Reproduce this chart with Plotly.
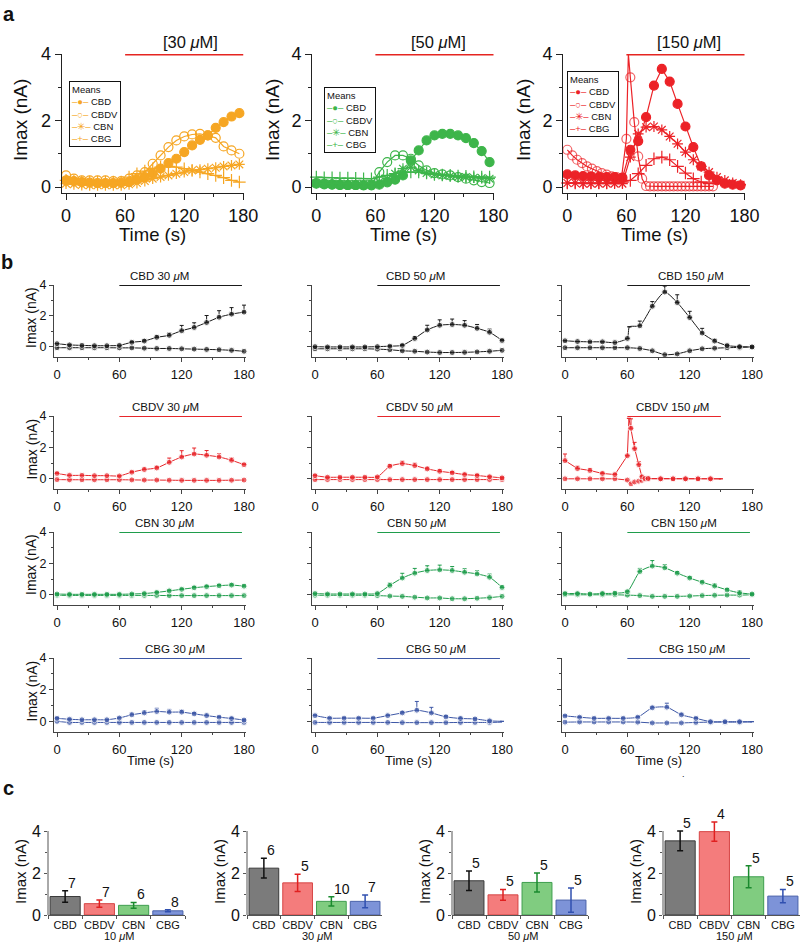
import plotly.graph_objects as go

W, H = 800, 943
FONT = "Liberation Sans, Arial, Helvetica, sans-serif"

# ---------------- panel a : mean Imax traces ----------------
T_A = [0, 8, 16, 24, 32, 40, 48, 56, 64, 72, 80, 88, 96, 104, 112, 120, 128, 136, 144, 152, 160, 168, 176]

A30_CBD = [0.2, 0.18, 0.15, 0.13, 0.12, 0.12, 0.12, 0.13, 0.15, 0.22, 0.3, 0.4, 0.55, 0.72, 0.85, 1.05,
           1.25, 1.42, 1.55, 1.78, 1.95, 2.12, 2.22]
A30_CBDV = [0.35, 0.25, 0.2, 0.2, 0.2, 0.2, 0.18, 0.18, 0.25, 0.35, 0.45, 0.7, 0.95, 1.2, 1.4, 1.52,
            1.58, 1.6, 1.55, 1.48, 1.22, 1.1, 1.0]
A30_CBN = [0.1, 0.08, 0.06, 0.05, 0.05, 0.05, 0.05, 0.05, 0.08, 0.12, 0.18, 0.25, 0.3, 0.35, 0.4, 0.45,
           0.5, 0.52, 0.55, 0.58, 0.62, 0.65, 0.68]
A30_CBG = [0.2, 0.18, 0.15, 0.15, 0.15, 0.15, 0.15, 0.15, 0.3, 0.4, 0.48, 0.55, 0.6, 0.62, 0.6, 0.55,
           0.5, 0.45, 0.4, 0.35, 0.28, 0.2, 0.15]

A50_CBD = [0.1, 0.08, 0.07, 0.06, 0.06, 0.06, 0.05, 0.05, 0.07, 0.14, 0.22, 0.35, 0.8, 1.1, 1.4, 1.55,
           1.6, 1.6, 1.55, 1.47, 1.32, 1.08, 0.75]
A50_CBDV = [0.12, 0.1, 0.08, 0.07, 0.06, 0.06, 0.06, 0.07, 0.45, 0.75, 0.95, 0.95, 0.85, 0.65, 0.5, 0.42,
            0.38, 0.35, 0.3, 0.25, 0.2, 0.15, 0.12]
A50_CBN = [0.12, 0.1, 0.1, 0.1, 0.1, 0.1, 0.1, 0.1, 0.15, 0.25, 0.4, 0.55, 0.6, 0.5, 0.42, 0.38,
           0.35, 0.33, 0.3, 0.3, 0.28, 0.27, 0.25]
A50_CBG = [0.3, 0.28, 0.28, 0.27, 0.27, 0.26, 0.25, 0.25, 0.3, 0.35, 0.4, 0.45, 0.45, 0.45, 0.42, 0.38,
           0.36, 0.35, 0.33, 0.32, 0.31, 0.3, 0.3]

A150_CBD = [0.38, 0.35, 0.33, 0.32, 0.3, 0.3, 0.3, 0.28, 1.12, 1.38, 2.1, 3.05, 3.55, 3.17, 2.5, 1.82,
            1.2, 0.62, 0.35, 0.2, 0.1, 0.07, 0.05]
A150_CBN = [0.12, 0.12, 0.1, 0.1, 0.1, 0.1, 0.1, 0.1, 0.9, 1.6, 1.8, 1.82, 1.72, 1.52, 1.3, 1.05,
            0.82, 0.62, 0.45, 0.3, 0.2, 0.12, 0.07]
A150_CBG = [0.12, 0.12, 0.12, 0.12, 0.12, 0.12, 0.15, 0.15, 0.2, 0.4, 0.65, 0.85, 0.9, 0.82, 0.62, 0.42,
            0.25, 0.15, 0.1]
T_A150_CBDV = [0, 5, 10, 15, 20, 25, 30, 35, 40, 45, 50, 55, 60, 62, 64, 68, 72, 76, 80, 84, 88, 92, 96,
               100, 104, 108, 112, 116, 120, 124, 128, 132, 136, 140, 144, 148]
A150_CBDV = [1.12, 0.95, 0.82, 0.72, 0.62, 0.55, 0.48, 0.42, 0.37, 0.32, 0.3, 0.27, 1.45, 4.0, 3.3, 1.95,
             0.92, 0.25, 0.03, 0.02, 0.02, 0.02, 0.02, 0.02, 0.02, 0.02, 0.02, 0.02, 0.02, 0.02, 0.02,
             0.02, 0.02, 0.02, 0.02, 0.02]

A_CONC = ["30", "50", "150"]
A_COLORS = ["#F6A623", "#3DB54A", "#EC2227"]
DRUGS = ["CBD", "CBDV", "CBN", "CBG"]
A_SYMBOLS = ["circle", "circle-open", "asterisk-open", "cross-thin-open"]
A_GLYPHS = ["●", "○", "✳", "+"]

# ---------------- panel b : individual drugs, treated vs control ----------------
T_B = [0, 12, 24, 36, 48, 60, 72, 84, 96, 108, 120, 132, 144, 156, 168, 180]
T_B14 = [0, 14, 28, 42, 56, 70, 84, 98, 112, 126, 140, 154, 168, 180]
T_B_CBD150 = [0, 12, 24, 36, 48, 60, 62, 72, 84, 96, 108, 120, 132, 144, 156, 168, 180]
T_B_CBDV150 = [0, 12, 24, 36, 48, 60, 61.5, 63.5, 67, 71, 74, 77, 80, 92, 104, 116, 128, 140, 150]
T_B_CBDV150_C = [0, 12, 24, 36, 48, 60, 63.5, 67, 71, 74, 77, 80, 92, 104, 116, 128, 140, 150]

CBD30 = [0.21, 0.13, 0.1, 0.08, 0.08, 0.1, 0.3, 0.38, 0.62, 0.75, 1.05, 1.26, 1.58, 1.92, 2.12, 2.25]
CBD30_E = [0, 0, 0, 0, 0, 0, 0.05, 0.08, 0.1, 0.15, 0.34, 0.3, 0.45, 0.42, 0.42, 0.45]
CBD30_C = [-0.05, -0.05, -0.05, -0.05, -0.05, -0.06, -0.06, -0.08, -0.1, -0.1, -0.12, -0.14, -0.16, -0.18,
           -0.22, -0.28]
CBD50 = [0.02, 0.0, 0.0, 0.0, 0.0, 0.02, 0.05, 0.1, 0.55, 1.1, 1.4, 1.45, 1.4, 1.2, 0.95, 0.42]
CBD50_E = [0, 0, 0, 0, 0, 0, 0.03, 0.05, 0.12, 0.3, 0.35, 0.35, 0.3, 0.25, 0.2, 0.05]
CBD50_C = [-0.12, -0.12, -0.12, -0.12, -0.12, -0.14, -0.18, -0.25, -0.28, -0.33, -0.36, -0.36, -0.35,
           -0.32, -0.28, -0.22]
CBD150 = [0.4, 0.35, 0.33, 0.33, 0.28, 0.55, 1.3, 1.37, 2.63, 3.55, 2.87, 1.9, 0.9, 0.38, 0.09, 0.02, 0.0]
CBD150_E = [0, 0, 0, 0, 0, 0, 0, 0.3, 0.3, 0.38, 0.5, 0.4, 0.3, 0.12, 0.05, 0.03, 0]
CBD150_C = [-0.05, -0.05, -0.05, -0.05, -0.05, -0.05, -0.1, -0.25, -0.5, -0.45, -0.25, -0.12, -0.08,
            -0.05, -0.03, 0.0]

CBDV30 = [0.34, 0.22, 0.22, 0.2, 0.2, 0.18, 0.42, 0.59, 0.69, 1.05, 1.39, 1.58, 1.5, 1.39, 1.18, 0.9]
CBDV30_E = [0.05, 0, 0, 0, 0, 0, 0.05, 0.1, 0.12, 0.27, 0.4, 0.38, 0.3, 0.2, 0.15, 0.05]
CBDV30_C = [-0.05, -0.06, -0.06, -0.06, -0.06, -0.06, -0.07, -0.08, -0.08, -0.09, -0.1, -0.1, -0.1, -0.1,
            -0.09, -0.08]
CBDV50 = [0.2, 0.1, 0.1, 0.1, 0.1, 0.12, 0.8, 0.97, 0.84, 0.63, 0.48, 0.38, 0.27, 0.21, 0.13, 0.06]
CBDV50_E = [0.05, 0, 0, 0, 0, 0.03, 0.1, 0.15, 0.15, 0.12, 0.1, 0.08, 0.08, 0.06, 0.05, 0.05]
CBDV50_C = [-0.05, -0.05, -0.05, -0.05, -0.05, -0.05, -0.05, -0.05, -0.05, -0.05, -0.05, -0.05, -0.05,
            -0.05, -0.05, -0.05]
CBDV150 = [1.16, 0.65, 0.53, 0.34, 0.27, 1.47, 3.85, 3.22, 1.92, 0.9, 0.13, 0.02, 0.02, 0.0, 0.0, 0.0,
           0.0, 0.0, 0.0]
CBDV150_E = [0.42, 0.15, 0.12, 0.08, 0.05, 0, 0, 0.6, 0.4, 0.2, 0.05, 0, 0, 0, 0, 0, 0, 0, 0]
CBDV150_C = [0.0, 0.0, 0.0, 0.0, 0.0, -0.08, -0.32, -0.2, -0.15, -0.1, -0.02, 0.0, 0.0, 0.0, 0.0, 0.0,
             0.0, 0.0]

CBN30 = [0.05, 0.03, 0.03, 0.03, 0.03, 0.03, 0.05, 0.08, 0.15, 0.25, 0.35, 0.45, 0.52, 0.58, 0.62, 0.55]
CBN30_E = [0.03, 0.02, 0.02, 0.02, 0.02, 0.02, 0.03, 0.04, 0.05, 0.06, 0.06, 0.07, 0.08, 0.08, 0.08, 0.08]
CBN30_C = [-0.03, -0.04, -0.04, -0.04, -0.04, -0.04, -0.04, -0.04, -0.04, -0.05, -0.05, -0.05, -0.05,
           -0.05, -0.05, -0.05]
CBN50 = [0.08, 0.05, 0.05, 0.05, 0.05, 0.08, 0.6, 1.07, 1.38, 1.55, 1.59, 1.55, 1.44, 1.33, 1.12, 0.47]
CBN50_E = [0.03, 0.02, 0.02, 0.02, 0.02, 0.03, 0.15, 0.3, 0.3, 0.3, 0.3, 0.25, 0.22, 0.2, 0.2, 0.1]
CBN50_C = [-0.03, -0.03, -0.03, -0.03, -0.03, -0.05, -0.08, -0.1, -0.15, -0.2, -0.2, -0.25, -0.25, -0.22,
           -0.18, -0.1]
CBN150 = [0.08, 0.08, 0.05, 0.08, 0.1, 0.2, 1.48, 1.83, 1.72, 1.38, 1.07, 0.8, 0.56, 0.31, 0.12, 0.05]
CBN150_E = [0.05, 0.05, 0.05, 0.08, 0.08, 0.05, 0.2, 0.35, 0.2, 0.1, 0.08, 0.08, 0.15, 0.1, 0.15, 0.0]
CBN150_C = [0.0, 0.0, 0.0, 0.0, 0.0, -0.02, -0.05, -0.1, -0.1, -0.1, -0.08, -0.05, -0.03, -0.02, -0.02, 0.0]

CBG30 = [0.21, 0.15, 0.12, 0.12, 0.12, 0.23, 0.43, 0.55, 0.64, 0.6, 0.6, 0.49, 0.38, 0.28, 0.2, 0.1]
CBG30_E = [0.05, 0.03, 0.03, 0.03, 0.03, 0.05, 0.12, 0.15, 0.2, 0.17, 0.12, 0.08, 0.1, 0.06, 0.06, 0.05]
CBG30_C = [0.02, -0.05, -0.05, -0.05, -0.05, -0.05, -0.05, -0.05, -0.05, -0.05, -0.05, -0.05, -0.05,
           -0.05, -0.05, -0.05]
CBG50 = [0.38, 0.22, 0.22, 0.22, 0.22, 0.38, 0.55, 0.72, 0.55, 0.3, 0.2, 0.17, 0.05, 0.02]
CBG50_E = [0.05, 0.03, 0.03, 0.03, 0.03, 0.05, 0.1, 0.55, 0.35, 0.1, 0.08, 0.05, 0.05, 0]
CBG50_C = [-0.05, -0.05, -0.05, -0.05, -0.05, -0.05, -0.06, -0.06, -0.06, -0.06, -0.05, -0.05, -0.05, -0.03]
CBG150 = [0.36, 0.28, 0.21, 0.21, 0.21, 0.28, 0.87, 0.91, 0.43, 0.21, 0.0, 0.0, 0.0, 0.0]
CBG150_E = [0.05, 0.03, 0.03, 0.03, 0.03, 0.05, 0.1, 0.25, 0.1, 0.05, 0, 0, 0, 0]
CBG150_C = [-0.03, -0.02, -0.02, -0.02, -0.02, -0.03, -0.08, -0.08, -0.08, -0.05, -0.03, -0.03, -0.03, -0.02]

B_CONC = ["30", "50", "150"]
B_COLORS = ["#1a1a1a", "#E8262B", "#1F9D4C", "#3D57A6"]
B_STIM_END = [[178, 178, 178], [178, 178, 150], [178, 178, 178], [178, 178, 178]]
B_TITLE_X = [[99, 97, 121], [104, 101, 103], [103, 98, 115], [114, 116, 122]]

# (treated t, treated y, err, control t, control y, hidden treated idx, hidden control idx)
B_PANELS = [
    [(T_B, CBD30, CBD30_E, T_B, CBD30_C, [], []),
     (T_B, CBD50, CBD50_E, T_B, CBD50_C, [], []),
     (T_B_CBD150, CBD150, CBD150_E, T_B, CBD150_C, [6], [])],
    [(T_B, CBDV30, CBDV30_E, T_B, CBDV30_C, [], []),
     (T_B, CBDV50, CBDV50_E, T_B, CBDV50_C, [], []),
     (T_B_CBDV150, CBDV150, CBDV150_E, T_B_CBDV150_C, CBDV150_C, [6, 18], [17])],
    [(T_B, CBN30, CBN30_E, T_B, CBN30_C, [], []),
     (T_B, CBN50, CBN50_E, T_B, CBN50_C, [], []),
     (T_B, CBN150, CBN150_E, T_B, CBN150_C, [], [])],
    [(T_B, CBG30, CBG30_E, T_B, CBG30_C, [], []),
     (T_B14, CBG50, CBG50_E, T_B14, CBG50_C, [13], [13]),
     (T_B14, CBG150, CBG150_E, T_B14, CBG150_C, [13], [13])],
]

# ---------------- panel c : peak Imax bars ----------------
C_CONC = ["10", "30", "50", "150"]
C10_MEAN = [0.88, 0.54, 0.46, 0.2]
C10_ERR = [0.27, 0.17, 0.14, 0.05]
C10_N = [7, 7, 6, 8]
C30_MEAN = [2.23, 1.53, 0.65, 0.65]
C30_ERR = [0.47, 0.41, 0.22, 0.3]
C30_N = [6, 5, 10, 7]
C50_MEAN = [1.63, 0.96, 1.55, 0.71]
C50_ERR = [0.46, 0.26, 0.45, 0.58]
C50_N = [5, 5, 5, 5]
C150_MEAN = [3.53, 3.97, 1.82, 0.9]
C150_ERR = [0.47, 0.46, 0.52, 0.32]
C150_N = [5, 4, 5, 5]
C_DATA = [(C10_MEAN, C10_ERR, C10_N), (C30_MEAN, C30_ERR, C30_N),
          (C50_MEAN, C50_ERR, C50_N), (C150_MEAN, C150_ERR, C150_N)]
C_FILL = ["#7b7b7b", "#F47C7C", "#80CC80", "#7D93D8"]
C_EDGE = ["#3a3a3a", "#D64545", "#3E9E4E", "#4A62AA"]
C_ERRC = ["#111111", "#E02020", "#1A8A2E", "#3050B0"]


def xdom(l, r):
    return [l / W, r / W]


def ydom(t, b):
    return [1 - b / H, 1 - t / H]


def px(x):
    return x / W


def py(y):
    return 1 - y / H


def label(x, y, text, size, angle=0, **kw):
    # text placed in page pixels, centred on (x, y)
    d = dict(xref="paper", yref="paper", x=px(x), y=py(y), text=text, showarrow=False,
             xanchor="center", yanchor="middle", textangle=angle,
             font=dict(size=size, family=FONT, color="#111"))
    d.update(kw)
    return d


fig = go.Figure()
layout = {}
annotations = []
shapes = []


def set_axes(k, xd, yd, xaxis, yaxis):
    xa = "xaxis" if k == 1 else f"xaxis{k}"
    ya = "yaxis" if k == 1 else f"yaxis{k}"
    xaxis.update(domain=xd, anchor=f"y{k}" if k > 1 else "y")
    yaxis.update(domain=yd, anchor=f"x{k}" if k > 1 else "x")
    layout[xa] = xaxis
    layout[ya] = yaxis
    return ("x" if k == 1 else f"x{k}"), ("y" if k == 1 else f"y{k}")


def base_axis(size, color="#333333", ticklen=5):
    return dict(showline=True, linecolor=color, linewidth=1, ticks="outside", tickcolor=color,
                ticklen=ticklen, showgrid=False, zeroline=False, automargin=False,
                tickfont=dict(size=size, family=FONT, color="#111111"))


k = 0
# ---------- row a ----------
A_XDOM = [(61.7, 243.8), (312, 494), (563, 745)]
A_SERIES = [[A30_CBD, A30_CBDV, A30_CBN, A30_CBG],
            [A50_CBD, A50_CBDV, A50_CBN, A50_CBG],
            [A150_CBD, None, A150_CBN, A150_CBG]]
A_TITLE_X = [126, 124, 124]
A_YTITLE_X = [21, 273, 524]
A_LEG_POS = [(69, 81), (324, 87), (567, 71)]
for j in range(3):
    k += 1
    xa = base_axis(18, "#222222", 6)
    xa.update(range=[-4.4, 180.5], tick0=0, dtick=60, ticklabelstandoff=0,
              minor=dict(ticks="outside", dtick=30, ticklen=3, tickcolor="#222222"))
    ya = base_axis(18, "#222222", 6)
    ya.update(range=[-0.18, 4.0], tick0=0, dtick=2,
              minor=dict(ticks="outside", dtick=1, ticklen=3, tickcolor="#222222"))
    xr, yr = set_axes(k, xdom(*A_XDOM[j]), ydom(54, 193), xa, ya)
    col = A_COLORS[j]
    for i, name in enumerate(DRUGS):
        if j == 2 and name == "CBDV":
            tx, vals = T_A150_CBDV, A150_CBDV
            sizes = [0 if t == 62 else 9 for t in tx]
        else:
            vals = A_SERIES[j][i]
            tx = T_A[:len(vals)]
            sizes = 9
        fig.add_trace(go.Scatter(
            x=tx, y=vals, xaxis=xr, yaxis=yr, mode="lines+markers", showlegend=False,
            line=dict(color=col, width=1.2), cliponaxis=False,
            marker=dict(symbol=A_SYMBOLS[i], size=sizes, color=col,
                        line=dict(color=col, width=1.2)),
            name=name))
    shapes.append(dict(type="line", xref=xr, yref=yr, x0=60, x1=180, y0=4, y1=4,
                       line=dict(color="#E52521", width=3)))
    annotations.append(dict(xref=xr, yref=yr, x=A_TITLE_X[j], y=4, yanchor="bottom", yshift=1,
                            xanchor="center", text=f"[{A_CONC[j]} <i>μ</i>M]", showarrow=False,
                            font=dict(size=16.5, family=FONT, color="#111")))
    annotations.append(label(A_YTITLE_X[j], 120, "Imax (nA)", 19, angle=-90))
    annotations.append(label(sum(A_XDOM[j]) / 2, 234.5, "Time (s)", 18.5))
    leg = "Means"
    for i, name in enumerate(DRUGS):
        leg += f"<br><span style='color:{col}'>–{A_GLYPHS[i]}–</span> {name}"
    lx, ly = A_LEG_POS[j]
    annotations.append(dict(xref="paper", yref="paper", x=px(lx), y=py(ly), xanchor="left",
                            yanchor="top", align="left", text=leg, showarrow=False,
                            bordercolor="#111", borderwidth=1, borderpad=2, bgcolor="white",
                            font=dict(size=9.5, family=FONT, color="#111")))

# ---------- row b ----------
B_XDOM = [(54, 246), (312, 504), (562, 754)]
B_YDOM = [(285, 357), (416, 489), (532, 605), (658, 732)]
B_ZERO = [347, 479, 594, 721]
for r in range(4):
    col = B_COLORS[r]
    for c in range(3):
        k += 1
        xa = base_axis(13, "#444444", 4)
        xa.update(range=[-2.9, 181.9], tick0=0, dtick=60, ticklabelstandoff=1,
                  minor=dict(ticks="outside", dtick=30, ticklen=2, tickcolor="#444444"))
        ya = base_axis(12.5, "#444444", 4)
        ya.update(range=[-0.65, 4.0], tick0=0, dtick=2, showticklabels=(c == 0),
                  minor=dict(ticks="outside", dtick=1, ticklen=2, tickcolor="#444444"))
        xr, yr = set_axes(k, xdom(*B_XDOM[c]), ydom(*B_YDOM[r]), xa, ya)
        tt, yt, et, tc, yc, hid_t, hid_c = B_PANELS[r][c]
        shape = "linear" if (r == 1 and c == 2) else "spline"
        fig.add_trace(go.Scatter(
            x=tc, y=yc, xaxis=xr, yaxis=yr, mode="lines+markers", showlegend=False,
            line=dict(color=col, width=1, shape=shape, smoothing=0.6), cliponaxis=False,
            marker=dict(size=[0 if i in hid_c else 6 for i in range(len(tc))], color=col)))
        fig.add_trace(go.Scatter(
            x=tt, y=yt, xaxis=xr, yaxis=yr, mode="lines+markers", showlegend=False,
            line=dict(color=col, width=1, shape=shape, smoothing=0.6), cliponaxis=False,
            marker=dict(size=[0 if i in hid_t else 6 for i in range(len(tt))], color=col),
            error_y=dict(type="data", array=et, arrayminus=[0] * len(et), symmetric=False,
                         color=col, thickness=1, width=2)))
        shapes.append(dict(type="line", xref=xr, yref=yr, x0=60, x1=B_STIM_END[r][c], y0=4, y1=4,
                           line=dict(color=col, width=1.8)))
        annotations.append(dict(xref=xr, yref=yr, x=B_TITLE_X[r][c], y=4, yanchor="bottom", yshift=1,
                                xanchor="center", text=f"{DRUGS[r]} {B_CONC[c]} <i>μ</i>M",
                                showarrow=False, font=dict(size=11.5, family=FONT, color="#111")))
        if c == 0:
            annotations.append(label(31, (B_YDOM[r][0] + B_ZERO[r]) / 2 + 2, "Imax (nA)", 14, angle=-90))
        if r == 3:
            annotations.append(label(sum(B_XDOM[c]) / 2, 760, "Time (s)", 13))

# ---------- row c ----------
# the value axis runs a little past 4 so the tallest error bars and n labels stay visible;
# its visible spine is drawn from 0 to 4 only
C_XDOM = [(48, 185), (247, 382), (452, 588), (663, 800)]
C_YTOP = 4.62
for j in range(4):
    k += 1
    xa = base_axis(11, "#555555", 3)
    xa.update(type="category", tickson="boundaries", ticklabelstandoff=0, tickangle=0,
              categoryorder="array", categoryarray=DRUGS)
    ya = base_axis(16, "#555555", 3)
    ya.update(range=[0, C_YTOP], tick0=0, dtick=2, showline=False,
              minor=dict(ticks="outside", dtick=1, ticklen=2, tickcolor="#555555"))
    xr, yr = set_axes(k, xdom(*C_XDOM[j]), ydom(915 - 21 * C_YTOP, 915), xa, ya)
    shapes.append(dict(type="line", xref=f"{xr} domain", yref=yr, x0=0, x1=0, y0=0, y1=4,
                       line=dict(color="#555555", width=1)))
    means, errs, ns = C_DATA[j]
    for i, name in enumerate(DRUGS):
        fig.add_trace(go.Bar(
            x=[name], y=[means[i]], xaxis=xr, yaxis=yr, showlegend=False, cliponaxis=False,
            marker=dict(color=C_FILL[i], line=dict(color=C_EDGE[i], width=1)),
            error_y=dict(type="data", array=[errs[i]], color=C_ERRC[i], thickness=1.5, width=3)))
        annotations.append(dict(xref=xr, yref=yr, x=name, y=means[i] + errs[i], xanchor="left",
                                yanchor="bottom", xshift=1, yshift=-2, text=str(ns[i]),
                                showarrow=False, font=dict(size=14, family=FONT, color="#111")))
    annotations.append(label(C_XDOM[j][0] - 28, 872, "Imax (nA)", 15, angle=-90))
    annotations.append(label(sum(C_XDOM[j]) / 2 + 3, 936, f"{C_CONC[j]} <i>μ</i>M", 11))

# panel letters
for letter, (lx, ly) in zip(["a", "b", "c"], [(9, 14), (7, 262), (8, 788)]):
    annotations.append(label(lx, ly, f"<b>{letter}</b>", 20))
annotations.append(label(683, 774, ".", 9))

fig.update_layout(**layout)
fig.update_layout(width=W, height=H, margin=dict(l=0, r=0, t=0, b=0, autoexpand=False),
                  plot_bgcolor="white", paper_bgcolor="white",
                  barmode="overlay", bargap=0.12,
                  font=dict(family=FONT, color="#111"),
                  annotations=annotations, shapes=shapes)

# drop the default page margin so the figure sits at the window's top-left corner
fig.write_html("out.html", config={"displayModeBar": False},
               post_script="document.body.style.margin='0';")
